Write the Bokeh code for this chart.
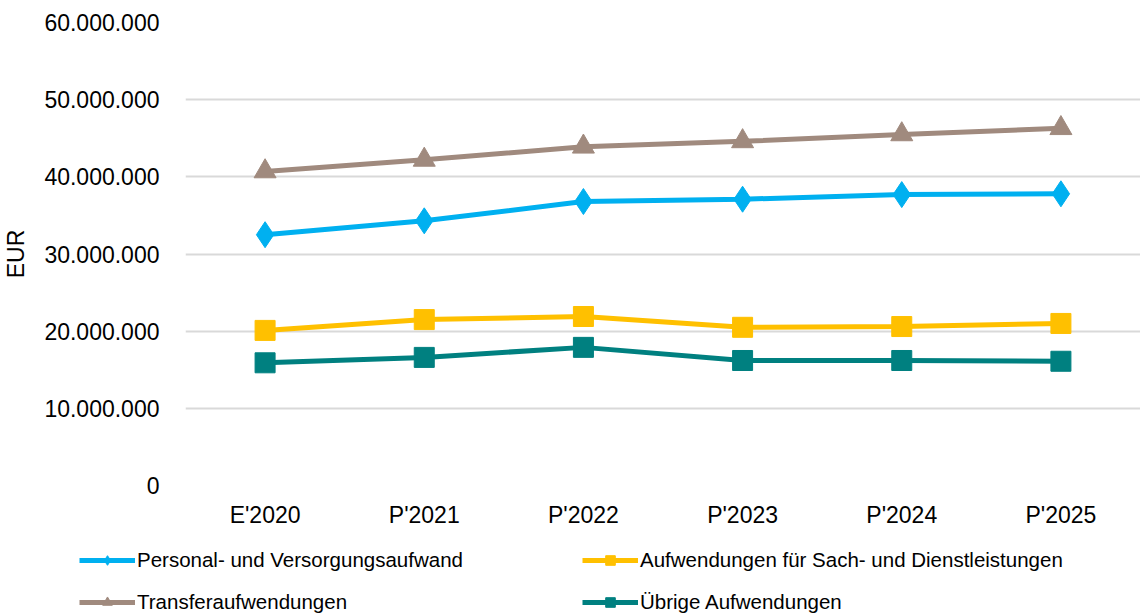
from bokeh.plotting import figure
from bokeh.models import Range1d, FactorRange, Legend, LegendItem, CustomJSTickFormatter, FixedTicker
from bokeh.embed import file_html
from bokeh.resources import INLINE

categories = ["E'2020", "P'2021", "P'2022", "P'2023", "P'2024", "P'2025"]
personal = [32.5e6, 34.3e6, 36.8e6, 37.1e6, 37.7e6, 37.8e6]
sach = [20.1e6, 21.5e6, 21.9e6, 20.5e6, 20.6e6, 21.0e6]
transfer = [40.7e6, 42.2e6, 43.9e6, 44.6e6, 45.5e6, 46.3e6]
uebrige = [15.9e6, 16.6e6, 17.9e6, 16.2e6, 16.2e6, 16.1e6]
y_ticks = [0, 10e6, 20e6, 30e6, 40e6, 50e6, 60e6]

FONT = "Liberation Sans"

p = figure(width=1140, height=540, x_range=FactorRange(factors=categories),
           y_range=Range1d(0, 60e6), output_backend="svg", toolbar_location=None,
           min_border_left=184, min_border_right=0, min_border_top=22, min_border_bottom=55)
p.outline_line_color = None
p.background_fill_color = "white"
p.border_fill_color = "white"

p.xgrid.grid_line_color = None
p.ygrid.grid_line_color = "#d9d9d9"
p.ygrid.grid_line_width = 2

p.yaxis.ticker = FixedTicker(ticks=y_ticks)
p.yaxis.formatter = CustomJSTickFormatter(code="return tick.toFixed(0).replace(/\\B(?=(\\d{3})+(?!\\d))/g, '.');")
for ax in (p.xaxis[0], p.yaxis[0]):
    ax.axis_line_color = None
    ax.major_tick_line_color = None
    ax.minor_tick_line_color = None
    ax.major_label_text_font = FONT
    ax.major_label_text_font_size = "23px"
    ax.major_label_text_color = "#000000"
p.yaxis.major_label_standoff = 20
p.xaxis.major_label_standoff = 10
p.yaxis.axis_label = "EUR"
p.yaxis.axis_label_text_font = FONT
p.yaxis.axis_label_text_font_size = "23px"
p.yaxis.axis_label_text_font_style = "normal"
p.yaxis.axis_label_text_color = "#000000"
p.yaxis.axis_label_standoff = 12

series = [
    ("Personal- und Versorgungsaufwand", personal, "#00B0F0", "diamond", 26),
    ("Aufwendungen für Sach- und Dienstleistungen", sach, "#FFC000", "square", 20),
    ("Transferaufwendungen", transfer, "#A08A7E", "triangle", 22),
    ("Übrige Aufwendungen", uebrige, "#008080", "square", 20),
]
for name, vals, color, marker, size in series:
    p.line(categories, vals, line_color=color, line_width=5)
    p.scatter(categories, vals, marker=marker, size=size, fill_color=color, line_color=color)

# legend strip: same series drawn out of view, used only for legend glyphs
lf = figure(width=1140, height=74, x_range=FactorRange(factors=categories),
            y_range=Range1d(-3e8, -2e8), output_backend="svg", toolbar_location=None,
            x_axis_location=None, y_axis_location=None,
            min_border_left=0, min_border_right=0, min_border_top=0, min_border_bottom=0)
lf.grid.visible = False
lf.outline_line_color = None
items = []
for name, vals, color, marker, size in series:
    l = lf.line(categories, vals, line_color=color, line_width=5)
    m = lf.scatter(categories, vals, marker=marker, size=10, fill_color=color, line_color=color)
    items.append(LegendItem(label=name, renderers=[l, m]))

def mk_legend(its, x):
    return Legend(items=its, location=(x, 0), orientation="vertical",
                  glyph_width=56, glyph_height=24, label_height=24, spacing=18,
                  label_standoff=2, padding=0, margin=0,
                  border_line_color=None, background_fill_alpha=0,
                  label_text_font=FONT, label_text_font_size="20.5px", label_text_color="#000000")

lf.add_layout(mk_legend([items[0], items[2]], 79))
lf.add_layout(mk_legend([items[1], items[3]], 582))

open("out.html", "w").write(file_html([p, lf], INLINE))
